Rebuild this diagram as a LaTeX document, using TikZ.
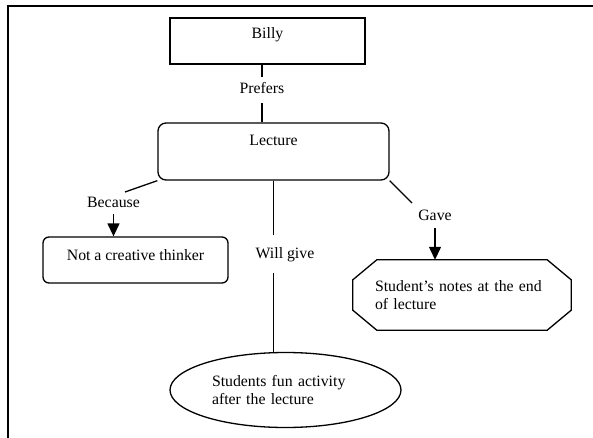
\documentclass[tikz,border=0pt]{standalone}
\usepackage{fontspec}
\setmainfont{Liberation Serif}
\usetikzlibrary{calc,shapes.geometric,arrows.meta}

\begin{document}
\begin{tikzpicture}[x=1pt,y=-1pt,
  every node/.style={font=\fontsize{15.8}{18}\selectfont},
  box/.style={draw,line width=1.3pt,inner xsep=0pt},
  lbl/.style={inner xsep=2pt,text height=11pt,text depth=3pt},
  conn/.style={line width=1.3pt},
  arr/.style={conn,-{Triangle[length=13pt,width=12pt]}}]

  % page size and frame
  \useasboundingbox (0,0) rectangle (593,438);
  \draw[line width=2pt] (593,6) -- (8,6) -- (8,438);

  % concept boxes
  \node[box,minimum width=195pt,inner ysep=9.5pt,text height=11pt,text depth=16pt]
    (billy) at (267.5,41) {Billy};
  \node[box,rounded corners=8pt,minimum width=231pt,inner ysep=11.5pt,text height=11pt,text depth=23pt]
    (lecture) at (273.5,151.5) {Lecture};
  \node[box,rounded corners=6pt,minimum width=185pt,inner ysep=12.5pt,text height=11pt,text depth=10pt]
    (notcreative) at (135.5,260) {Not a creative thinker};
  \node[inner sep=0pt,minimum width=218pt,minimum height=70pt,text width=174pt,align=left]
    (notes) at (462,295) {Student's notes at the end\\of lecture};
  \node[box,ellipse,inner sep=0pt,minimum width=231pt,minimum height=75pt,text width=147pt,align=left]
    (fun) at (285.5,390) {Students fun activity\\after the lecture};

  % octagon round the notes
  \def\cx{24}
  \def\cy{20}
  \draw[box] ($(notes.north west)+(\cx,0)$) -- ($(notes.north east)+(-\cx,0)$)
    -- ($(notes.north east)+(0,\cy)$) -- ($(notes.south east)+(0,-\cy)$)
    -- ($(notes.south east)+(-\cx,0)$) -- ($(notes.south west)+(\cx,0)$)
    -- ($(notes.south west)+(0,-\cy)$) -- ($(notes.north west)+(0,\cy)$) -- cycle;

  % link labels
  \node[lbl,inner ysep=6pt] (prefers) at (262,90) {Prefers};
  \node[lbl,inner ysep=3.5pt] (because) at (113.5,203.5) {Because};
  \node[lbl,inner ysep=12pt] (willgive) at (285,254) {Will give};
  \node[lbl,inner ysep=5pt] (gave) at (435,216) {Gave};

  % free ends of the slanted links
  \coordinate (becauseend) at (125,192);
  \coordinate (gaveend) at (412,203);

  % links
  \draw[conn] (billy.south -| prefers) -- (prefers.north);
  \draw[conn] (prefers.south) -- (lecture.north -| prefers);

  \draw[conn] (lecture.south west) -- (becauseend);
  \draw[arr] (because.south) -- (because.south |- notcreative.north);

  \draw[conn] (lecture.south) -- (lecture.south |- willgive.north);
  \draw[conn] (lecture.south |- willgive.south) -- (lecture.south |- fun.north);

  \draw[conn] (lecture.south east) -- (gaveend);
  \draw[arr] (gave.south) -- (gave.south |- notes.north);
\end{tikzpicture}
\end{document}
